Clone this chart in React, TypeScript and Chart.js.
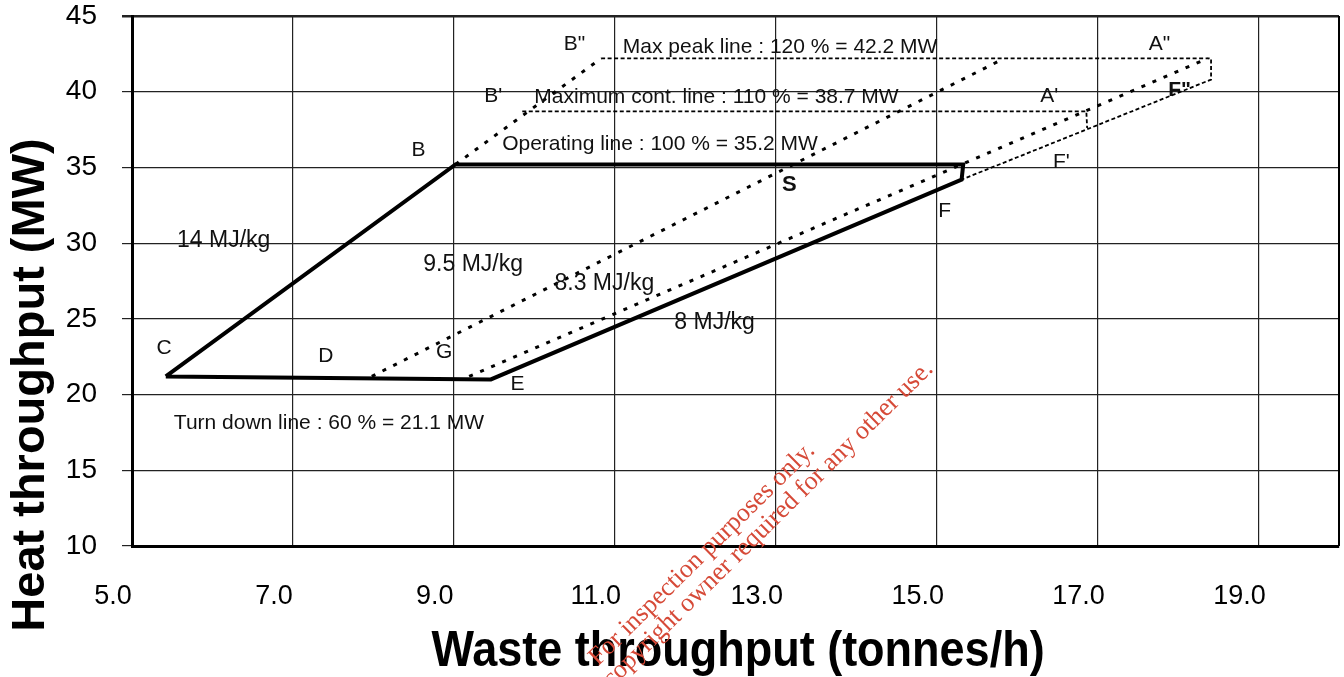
import React, { useEffect, useRef } from 'react';
import { Chart, registerables } from 'chart.js';

Chart.register(...registerables);

// ---- axis ticks ----
const X_TICKS = [5, 7, 9, 11, 13, 15, 17, 19];
const Y_TICKS = [10, 15, 20, 25, 30, 35, 40, 45];

// ---- series (waste throughput t/h, heat throughput MW) ----
// Solid operating envelope: C -> B -> operating line end -> F -> E -> C
const ENVELOPE_X = [5.42, 9.02, 15.33, 15.31, 9.46, 5.42];
const ENVELOPE_Y = [21.2, 35.2, 35.2, 34.2, 21.0, 21.2];

// 14 MJ/kg extension B -> B' -> B''
const LINE_14_EXT_X = [9.02, 10.83];
const LINE_14_EXT_Y = [35.2, 42.2];

// 9.5 MJ/kg line (D -> G -> S -> max peak)
const LINE_95_X = [7.98, 15.84];
const LINE_95_Y = [21.2, 42.2];

// 8.3 MJ/kg line (E -> A'')
const LINE_83_X = [9.19, 18.37];
const LINE_83_Y = [21.2, 42.2];

// Max peak line B'' -> A'' -> F'' -> F' -> F
const PEAK_X = [10.83, 18.41, 18.41, 15.31];
const PEAK_Y = [42.2, 42.2, 40.8, 34.2];

// Maximum continuous line B' -> A'
const CONT_X = [9.85, 16.86, 16.87];
const CONT_Y = [38.7, 38.7, 37.6];

// ---- annotation texts (anchored in data units) ----
const LABEL_TEXT = [
  'B"', 'Max peak line : 120 % = 42.2 MW', 'A"',
  "B'", 'Maximum cont. line : 110 % = 38.7 MW', "A'", 'F"',
  'Operating line : 100 % = 35.2 MW', 'B', 'S', 'F', "F'",
  '14 MJ/kg', '9.5 MJ/kg', '8.3 MJ/kg', '8 MJ/kg',
  'C', 'D', 'G', 'E', 'Turn down line : 60 % = 21.1 MW',
];
const LABEL_X = [
  10.50, 11.10, 17.77,
  9.49, 10.00, 16.40, 18.02,
  9.60, 8.56, 13.17, 15.10, 16.55,
  5.56, 8.62, 10.87, 12.24,
  5.40, 7.41, 8.88, 9.79, 5.52,
];
const LABEL_Y = [
  43.16, 42.96, 43.16,
  39.72, 39.66, 39.72, 40.12,
  36.55, 36.16, 33.84, 32.13, 35.36,
  30.15, 28.60, 27.30, 24.73,
  23.08, 22.55, 22.81, 20.70, 18.12,
];
const LABEL_ALIGN = [
  'center', 'left', 'center',
  'center', 'left', 'center', 'center',
  'left', 'center', 'center', 'center', 'center',
  'left', 'left', 'center', 'center',
  'center', 'center', 'center', 'center', 'left',
];
const LABEL_BOLD = [
  false, false, false,
  false, false, false, true,
  false, false, true, false, false,
  false, false, false, false,
  false, false, false, false, false,
];
const LABEL_SIZE = [
  21, 21, 21,
  21, 21, 21, 21,
  21, 21, 22, 21, 21,
  23, 23, 23, 23,
  21, 21, 21, 21, 21,
];

const X_TITLE = 'Waste throughput (tonnes/h)';
const Y_TITLE = 'Heat throughput (MW)';
const WATERMARK_1 = 'For inspection purposes only.';
const WATERMARK_2 = 'Consent of copyright owner required for any other use.';

const SANS = '"Liberation Sans", Arial, Helvetica, sans-serif';
const SERIF = '"Liberation Serif", "Times New Roman", serif';

const zip = (xs: number[], ys: number[]) => xs.map((x, i) => ({ x, y: ys[i] }));

const annotationPlugin = {
  id: 'annotationPlugin',
  afterDatasetsDraw(chart: any) {
    const { ctx, chartArea, scales } = chart;
    const xs = scales.x;
    const ys = scales.y;
    ctx.save();
    // right border of plot
    ctx.strokeStyle = '#000';
    ctx.lineWidth = 2;
    ctx.beginPath();
    ctx.moveTo(chartArea.right, chartArea.top);
    ctx.lineTo(chartArea.right, chartArea.bottom);
    ctx.stroke();

    ctx.fillStyle = '#111';
    ctx.textBaseline = 'middle';
    LABEL_TEXT.forEach((t, i) => {
      ctx.font = `${LABEL_BOLD[i] ? 'bold ' : ''}${LABEL_SIZE[i]}px ${SANS}`;
      ctx.textAlign = LABEL_ALIGN[i];
      ctx.fillText(t, xs.getPixelForValue(LABEL_X[i]), ys.getPixelForValue(LABEL_Y[i]));
    });
    ctx.restore();
  },
  afterDraw(chart: any) {
    const { ctx } = chart;
    ctx.save();
    // Y axis title
    ctx.fillStyle = '#000';
    ctx.font = `bold 47px ${SANS}`;
    ctx.textAlign = 'center';
    ctx.textBaseline = 'middle';
    ctx.translate(31, 385);
    ctx.rotate(-Math.PI / 2);
    ctx.fillText(Y_TITLE, 0, 0);
    ctx.restore();

    // X axis title (condensed)
    ctx.save();
    ctx.fillStyle = '#000';
    ctx.font = `bold 50px ${SANS}`;
    ctx.textAlign = 'center';
    ctx.textBaseline = 'alphabetic';
    ctx.translate(738, 666);
    ctx.scale(0.9, 1);
    ctx.fillText(X_TITLE, 0, 0);
    ctx.restore();

    // watermark
    ctx.save();
    ctx.fillStyle = 'rgb(214,74,56)';
    ctx.font = `26px ${SERIF}`;
    ctx.textAlign = 'center';
    ctx.textBaseline = 'alphabetic';
    ctx.translate(707, 559);
    ctx.rotate((-44.6 * Math.PI) / 180);
    ctx.fillText(WATERMARK_1, 0, 0);
    ctx.fillText(WATERMARK_2, 8, 25);
    ctx.restore();
  },
};

export default function App() {
  const canvasRef = useRef<HTMLCanvasElement | null>(null);

  useEffect(() => {
    if (!canvasRef.current) return;
    const dotted = { borderColor: '#000', borderWidth: 3, borderDash: [4, 8], borderCapStyle: 'butt' };
    const dashed = { borderColor: '#000', borderWidth: 1.8, borderDash: [4, 2.5] };
    const common = { showLine: true, pointRadius: 0, pointHoverRadius: 0, fill: false, tension: 0 };
    const chart = new Chart(canvasRef.current, {
      type: 'scatter',
      data: {
        datasets: [
          { ...common, data: zip(ENVELOPE_X, ENVELOPE_Y), borderColor: '#000', borderWidth: 4, borderJoinStyle: 'miter' },
          { ...common, ...dotted, data: zip(LINE_14_EXT_X, LINE_14_EXT_Y) },
          { ...common, ...dotted, data: zip(LINE_95_X, LINE_95_Y) },
          { ...common, ...dotted, data: zip(LINE_83_X, LINE_83_Y) },
          { ...common, ...dashed, data: zip(PEAK_X, PEAK_Y) },
          { ...common, ...dashed, data: zip(CONT_X, CONT_Y) },
        ] as any,
      },
      options: {
        animation: false,
        responsive: true,
        maintainAspectRatio: false,
        layout: { padding: { top: 16, right: 5, left: 0, bottom: 0 } },
        plugins: { legend: { display: false }, tooltip: { enabled: false } },
        scales: {
          x: {
            type: 'linear',
            min: 5,
            max: 20,
            afterBuildTicks: (s: any) => {
              s.ticks = X_TICKS.map((v) => ({ value: v }));
            },
            afterFit: (s: any) => {
              s.height = 131;
              s.paddingLeft = 0;
              s.paddingRight = 0;
            },
            grid: { color: '#222', lineWidth: 1.2, drawTicks: false },
            border: { color: '#000', width: 3 },
            ticks: {
              padding: 37,
              labelOffset: -19,
              autoSkip: false,
              maxRotation: 0,
              color: '#000',
              font: { size: 27, family: SANS, lineHeight: 1 },
              callback: (v: any) => Number(v).toFixed(1),
            },
          },
          y: {
            type: 'linear',
            min: 10,
            max: 45,
            afterBuildTicks: (s: any) => {
              s.ticks = Y_TICKS.map((v) => ({ value: v }));
            },
            afterFit: (s: any) => {
              s.width = 132;
              s.paddingTop = 0;
              s.paddingBottom = 0;
            },
            grid: {
              color: '#222',
              lineWidth: (c: any) => (c.tick && c.tick.value === 45 ? 2.5 : 1.2),
              drawTicks: true,
              tickLength: 10,
            },
            border: { color: '#000', width: 3 },
            ticks: {
              padding: 25,
              color: '#000',
              font: { size: 28, family: SANS, lineHeight: 1 },
            },
          },
        },
      } as any,
      plugins: [annotationPlugin as any],
    });
    return () => chart.destroy();
  }, []);

  return (
    <div style={{ position: 'fixed', left: 0, top: 0, width: '1344px', height: '677px', background: '#fff' }}>
      <canvas ref={canvasRef} />
    </div>
  );
}
